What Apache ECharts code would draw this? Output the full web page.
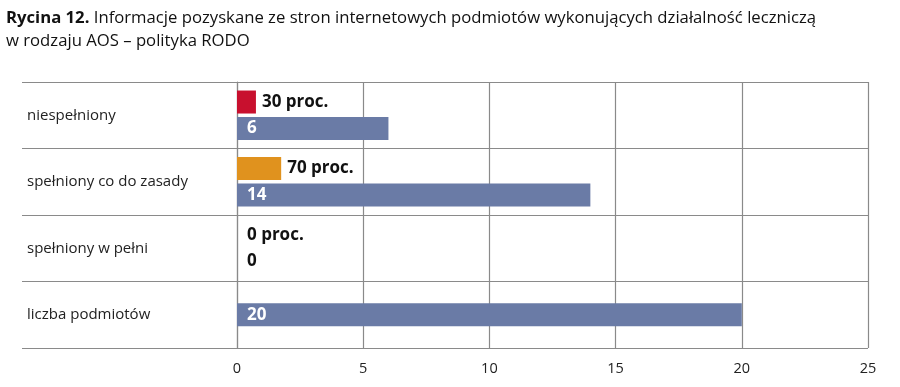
<!DOCTYPE html>
<html>
<head>
<meta charset="utf-8">
<script src="https://cdn.jsdelivr.net/npm/echarts@6/dist/echarts.min.js"></script>
<style>
html,body{margin:0;padding:0;background:#fff;}
#t{position:absolute;left:6px;top:5px;font-family:"Open Sans",sans-serif;font-size:16.7px;line-height:23px;color:#111;}
#c{position:absolute;left:0;top:0;width:900px;height:387px;}
</style>
</head>
<body>
<div id="c"></div>
<div id="t"><b>Rycina 12.</b> Informacje pozyskane ze stron internetowych podmiotów wykonujących działalność leczniczą<br>w rodzaju AOS – polityka RODO</div>
<script>
const categories = ['niespełniony', 'spełniony co do zasady', 'spełniony w pełni', 'liczba podmiotów'];
const percentValues = [30, 70, 0, null];
const countValues = [6, 14, 0, null];
const totalValues = [null, null, null, 20];
const percentColors = ['#c8102e', '#e0921e', '#c8102e', '#c8102e'];
const xTicks = [0, 5, 10, 15, 20, 25];

const chart = echarts.init(document.getElementById('c'), null, {renderer: 'canvas'});
const grey = '#8a8a8a';
const labelFont = {fontFamily: 'Open Sans', fontWeight: 'bold', fontSize: 17};

chart.setOption({
  animation: false,
  grid: {left: 237, right: 32, top: 82, bottom: 39},
  xAxis: [{
    type: 'value', min: 0, max: 25, interval: 5,
    axisLine: {show: false}, axisTick: {show: false},
    splitLine: {show: true, lineStyle: {color: grey, width: 1.2}},
    axisLabel: {color: '#222', fontFamily: 'Open Sans', fontSize: 14.5, margin: 13,
      formatter: v => xTicks.includes(v) ? String(v) : ''}
  }, {
    type: 'value', min: 0, max: 1000, show: false
  }],
  yAxis: [{
    type: 'category', data: categories, inverse: true,
    axisLine: {show: true, lineStyle: {color: grey, width: 1.2}},
    axisTick: {show: true, length: 215, lineStyle: {color: grey, width: 1.2}},
    splitLine: {show: true, lineStyle: {color: grey, width: 1.2}},
    axisLabel: {align: 'left', margin: 210, color: '#222', fontFamily: 'Open Sans', fontSize: 15}
  }, {
    type: 'category', data: categories, inverse: true, show: false
  }],
  series: [{
    type: 'bar', xAxisIndex: 1, yAxisIndex: 0, barWidth: 23, barGap: '15%',
    data: percentValues.map((v, i) => ({value: v, itemStyle: {color: percentColors[i]},
      label: v === 0 ? {offset: [4, 0]} : undefined})),
    label: {show: true, position: 'right', distance: 6, color: '#111', ...labelFont,
      formatter: p => p.value == null ? '' : p.value + ' proc.'}
  }, {
    type: 'bar', xAxisIndex: 0, yAxisIndex: 0, barWidth: 23, barGap: '15%',
    itemStyle: {color: '#6a7ba6'},
    data: countValues.map(v => ({value: v, label: v === 0 ? {color: '#111'} : undefined})),
    label: {show: true, position: 'insideLeft', distance: 10, color: '#fff', ...labelFont,
      formatter: p => p.value == null ? '' : String(p.value)}
  }, {
    type: 'bar', xAxisIndex: 0, yAxisIndex: 1, barWidth: 23,
    itemStyle: {color: '#6a7ba6'},
    data: totalValues,
    label: {show: true, position: 'insideLeft', distance: 10, color: '#fff', ...labelFont,
      formatter: p => p.value == null ? '' : String(p.value)}
  }]
});
</script>
</body>
</html>
